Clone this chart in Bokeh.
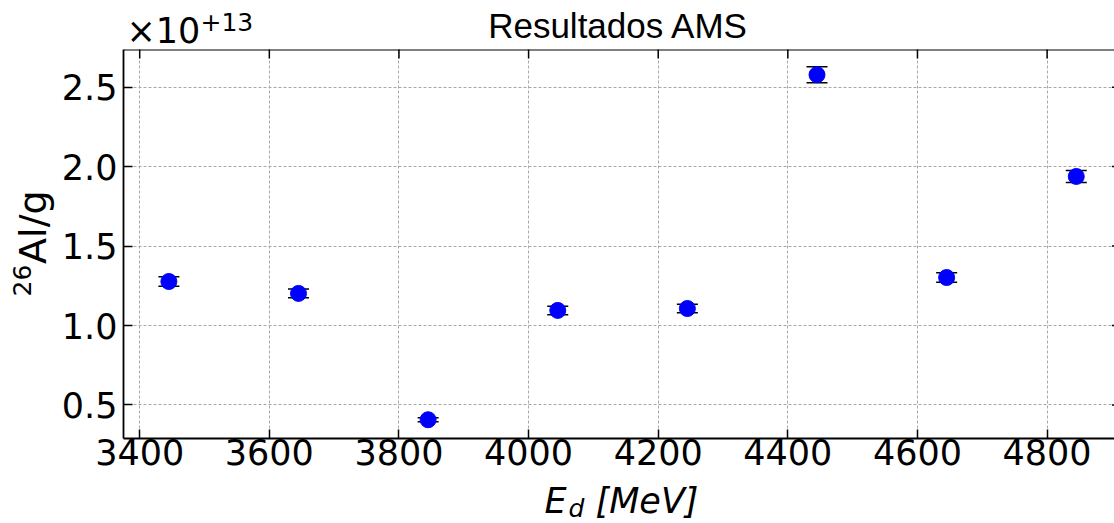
import math

from bokeh.core.properties import value
from bokeh.embed import file_html
from bokeh.layouts import column, row
from bokeh.models import (ColumnDataSource, FixedTicker, PrintfTickFormatter,
                          Range1d, Span, TeeHead, Whisker)
from bokeh.plotting import figure
from bokeh.resources import INLINE

# AMS results: 26Al concentration per gram (in units of 1e13) vs deuteron energy
energies_mev = [3445, 3645, 3845, 4045, 4245, 4445, 4645, 4845]
al26_per_g = [1.277, 1.202, 0.407, 1.095, 1.107, 2.578, 1.302, 1.938]
al26_err = [0.030, 0.028, 0.013, 0.027, 0.027, 0.051, 0.030, 0.038]

x_ticks = [3400, 3600, 3800, 4000, 4200, 4400, 4600, 4800]
y_ticks = [0.5, 1.0, 1.5, 2.0, 2.5]
scale_exponent = "+13"

X_MIN, X_MAX = 3375, 4904
Y_MIN, Y_MAX = 0.289, 2.737

FONT = "DejaVu Sans"
TITLE_FONT = "Liberation Sans"

# page geometry (pixels)
W, H = 1114, 523
TOP_H = 49          # strip holding the title and the scale factor
LEFT_W = 57         # strip holding the rotated y label
MAIN_H = 430        # plot with its tick labels
BOTTOM_H = H - TOP_H - MAIN_H
FRAME_LEFT = 123
FRAME_H = 389

source = ColumnDataSource(dict(
    x=energies_mev,
    y=al26_per_g,
    lower=[v - e for v, e in zip(al26_per_g, al26_err)],
    upper=[v + e for v, e in zip(al26_per_g, al26_err)],
))

p = figure(
    width=W - LEFT_W, height=MAIN_H,
    output_backend="svg", toolbar_location=None,
    x_range=Range1d(X_MIN, X_MAX), y_range=Range1d(Y_MIN, Y_MAX),
    min_border_left=FRAME_LEFT - LEFT_W, min_border_right=0,
    min_border_top=0, min_border_bottom=MAIN_H - FRAME_H,
    background_fill_color="white", border_fill_color="white",
)
p.outline_line_color = None

for ax, ticks in ((p.xaxis[0], x_ticks), (p.yaxis[0], y_ticks)):
    ax.ticker = FixedTicker(ticks=ticks)
    ax.minor_tick_line_color = None
    ax.major_tick_in = 9
    ax.major_tick_out = 0
    ax.major_tick_line_width = 1.5
    ax.major_tick_line_color = "black"
    ax.axis_line_width = 1.8
    ax.axis_line_color = "black"
    ax.major_label_text_font = FONT
    ax.major_label_text_color = "black"
    ax.major_label_text_font_size = "35px"

p.xaxis[0].major_label_standoff = 0
p.yaxis[0].major_label_standoff = 6
p.yaxis[0].formatter = PrintfTickFormatter(format="%.1f")

# top spine and inward ticks on the top and right edges
p.add_layout(Span(location=Y_MAX, dimension="width", line_color="black",
                  line_width=1.8))
p.scatter(x=x_ticks, y=[Y_MAX] * len(x_ticks), marker="dash", angle=math.pi / 2,
          size=18, line_color="black", line_width=1.5)
p.scatter(x=[X_MAX] * len(y_ticks), y=y_ticks, marker="dash",
          size=5, line_color="black", line_width=1.5)

p.xgrid.ticker = FixedTicker(ticks=x_ticks)
p.ygrid.ticker = FixedTicker(ticks=y_ticks)
p.grid.grid_line_color = "#a8a8a8"
p.grid.grid_line_dash = "3 2"
p.grid.grid_line_width = 1

# error bars with caps, drawn beneath the markers
whisker = Whisker(
    source=source, base="x", lower="lower", upper="upper",
    line_color="black", line_width=1.5,
    upper_head=TeeHead(size=21, line_color="black", line_width=1.5),
    lower_head=TeeHead(size=21, line_color="black", line_width=1.5),
    level="underlay",
)
p.add_layout(whisker)

p.scatter("x", "y", source=source, size=16, fill_color="blue",
          line_color="blue", line_width=1)


def text_strip(width, height):
    """A bare figure whose frame fills it, used for text around the plot."""
    f = figure(width=width, height=height, output_backend="svg",
               toolbar_location=None, x_axis_type=None, y_axis_type=None,
               x_range=Range1d(0, width), y_range=Range1d(0, height),
               min_border=0, background_fill_color="white",
               border_fill_color="white")
    f.outline_line_color = None
    return f


def put_text(f, x, y, s, size, font=FONT, style="normal", align="left", angle=0):
    f.text(x=[x], y=[y], text=[s], text_font=value(font),
           text_font_size=value(f"{size}px"), text_font_style=style,
           text_align=align, text_baseline="alphabetic", angle=angle,
           text_color="black")


# title and scale factor
top = text_strip(W, TOP_H)
put_text(top, 618, 24, "Resultados AMS", 35, font=TITLE_FONT, align="center")
put_text(top, 126, 19, "\u00d710", 35)
put_text(top, 200, 28, scale_exponent, 25)

# y label: 26Al/g, read bottom to top
left = text_strip(LEFT_W, MAIN_H)
put_text(left, 21, 157, "26", 25, angle=math.pi / 2)
put_text(left, 32, 193, "Al/g", 38, angle=math.pi / 2)

# x label: E_d [MeV]
bottom = text_strip(W, BOTTOM_H)
put_text(bottom, 544, 23, "E", 35, style="italic")
put_text(bottom, 568, 15, "d", 25, style="italic")
put_text(bottom, 595, 23, "[MeV]", 35, style="italic")

page = column(top, row(left, p), bottom)

open("out.html", "w").write(file_html(page, INLINE))
